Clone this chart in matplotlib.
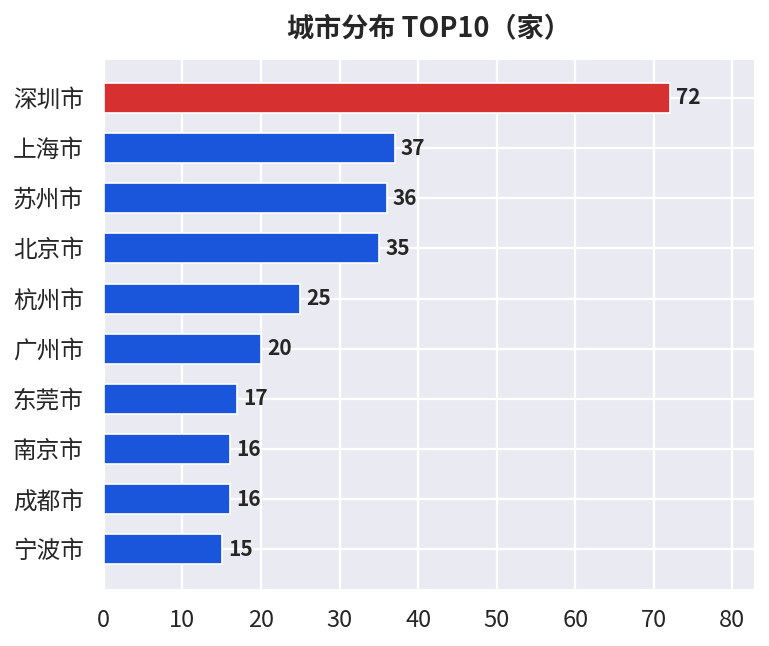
import matplotlib
matplotlib.use("Agg")
import matplotlib.pyplot as plt
import seaborn as sns

cities = ["深圳市", "上海市", "苏州市", "北京市", "杭州市", "广州市", "东莞市", "南京市", "成都市", "宁波市"]
counts = [72, 37, 36, 35, 25, 20, 17, 16, 16, 15]
title = "城市分布 TOP10（家）"

sns.set_style("darkgrid")
plt.rcParams['font.family'] = ['Noto Sans CJK SC', 'DejaVu Sans']

fig = plt.figure(figsize=(7.69, 6.46), dpi=100)
ax = fig.add_axes([0.135, 0.089, 0.846, 0.820])

colors = ["#D63031"] + ["#1A56DB"] * (len(counts) - 1)
pos = list(range(len(cities)))
ax.barh(pos, counts, height=0.6, color=colors, edgecolor="white", linewidth=1.2, zorder=3)
ax.set_yticks(pos)
ax.set_yticklabels(cities, fontsize=17, color="#262626")
ax.invert_yaxis()
ax.set_xlim(0, max(counts) * 1.15)
ax.set_xticks(range(0, 90, 10))
ax.tick_params(axis="x", labelsize=17, colors="#262626", pad=11)
ax.tick_params(axis="y", pad=11)
ax.grid(True, color="white", linewidth=1.6)

for i, v in enumerate(counts):
    ax.text(v + 0.8, i, str(v), va="center", ha="left", fontsize=15,
            fontweight="bold", color="#262626", zorder=4)

ax.set_title(title, fontsize=19.5, fontweight="bold", color="#262626", pad=15.5)

fig.savefig("out.png", dpi=100)
